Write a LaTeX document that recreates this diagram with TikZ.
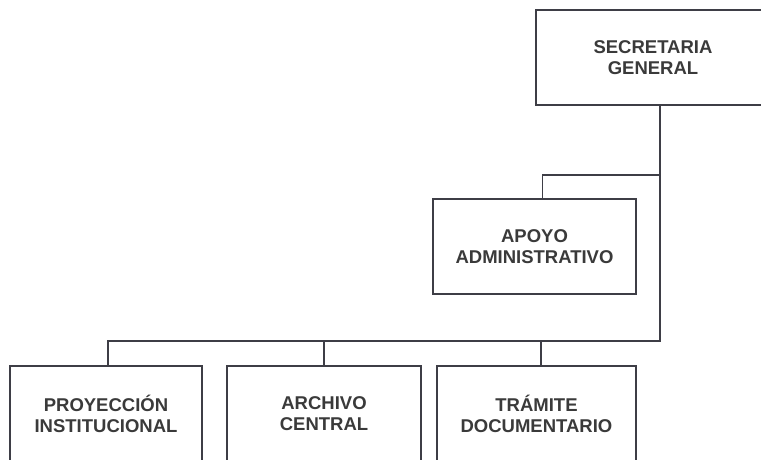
\documentclass[tikz,border=0pt]{standalone}
\usepackage{fontspec}
\setmainfont{Liberation Sans}
\usetikzlibrary{positioning}

\definecolor{linegray}{HTML}{3E3E46}
\definecolor{textgray}{HTML}{3A3A3A}

\tikzset{
  unit/.style={draw=linegray, line width=1.6pt, fill=white, minimum height=95pt,
    inner sep=0pt, align=center, text=textgray,
    font=\fontsize{18.5}{21}\selectfont\bfseries},
  link/.style={draw=linegray, line width=1.6pt}
}

\begin{document}
\begin{tikzpicture}[x=1pt, y=-1pt]
  \useasboundingbox (0,0) rectangle (761,460);
  \fill[white] (0,0) rectangle (761,460);
  \clip (0,0) rectangle (761,460);
  \node[unit, minimum width=234pt] (sg) at (653,57.5) {SECRETARIA\\GENERAL};
  \node[unit, minimum width=203pt] (apoyo) at (534.5,246.5) {APOYO\\ADMINISTRATIVO};
  \node[unit, minimum width=192pt] (proy) at (106,413.5) {PROYECCIÓN\\INSTITUCIONAL};
  \node[unit, minimum width=194pt] (arch) at (324,413.5) {ARCHIVO\\CENTRAL};
  \node[unit, minimum width=199pt] (tram) at (536.5,413.5) {TRÁMITE\\DOCUMENTARIO};
  \coordinate (j1) at (660,175);
  \coordinate (j2) at (660,341);
 % trunk and branches
  \draw[link] (sg.south -| j1) -- (j2) -- ([xshift=2pt]proy.north |- j2) -- ([xshift=2pt]proy.north);
  \draw[link] (j1) -| ([xshift=8pt]apoyo.north);
  \draw[link] (arch.north |- j2) -- (arch.north);
  \draw[link] ([xshift=4.5pt]tram.north |- j2) -- ([xshift=4.5pt]tram.north);
\end{tikzpicture}
\end{document}
